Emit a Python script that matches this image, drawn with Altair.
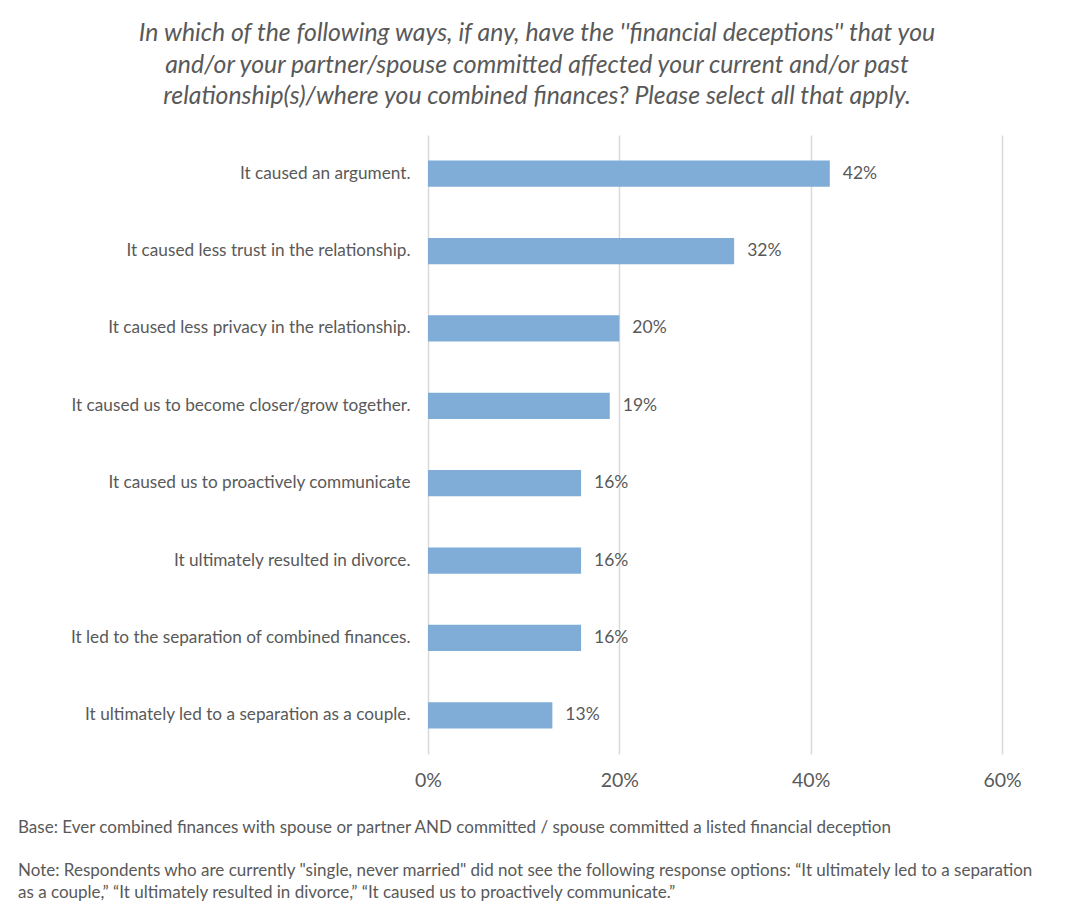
import altair as alt
import pandas as pd

categories = [
    "It caused an argument.",
    "It caused less trust in the relationship.",
    "It caused less privacy in the relationship.",
    "It caused us to become closer/grow together.",
    "It caused us to proactively communicate",
    "It ultimately resulted in divorce.",
    "It led to the separation of combined finances.",
    "It ultimately led to a separation as a couple.",
]
values = [0.42, 0.32, 0.20, 0.19, 0.16, 0.16, 0.16, 0.13]
labels = ["42%", "32%", "20%", "19%", "16%", "16%", "16%", "13%"]

title_lines = [
    "In which of the following ways, if any, have the ''financial deceptions'' that you",
    "and/or your partner/spouse committed affected your current and/or past",
    "relationship(s)/where you combined finances? Please select all that apply.",
]
base_note = "Base: Ever combined finances with spouse or partner AND committed / spouse committed a listed financial deception"
note_lines = [
    "Note: Respondents who are currently \"single, never married\" did not see the following response options: \u201cIt ultimately led to a separation",
    "as a couple,\u201d \u201cIt ultimately resulted in divorce,\u201d \u201cIt caused us to proactively communicate.\u201d",
]

df = pd.DataFrame({"cat": categories, "val": values, "lab": labels})

FONT = "Lato"
GRAY = "#595959"
W, H = 574, 619

x = alt.X("val:Q", scale=alt.Scale(domain=[0, 0.6]),
          axis=alt.Axis(values=[0, 0.2, 0.4, 0.6], format=".0%", title=None,
                        domain=False, ticks=False, labelPadding=17, labelFontSize=19.5,
                        labelColor=GRAY, labelFont=FONT, labelFlush=False, grid=True,
                        gridColor="#d9d9d9", gridWidth=1.5))
y = alt.Y("cat:N", sort=categories, scale=alt.Scale(paddingInner=0.66, paddingOuter=0.33),
          axis=alt.Axis(title=None, domain=False, ticks=False, labelPadding=18,
                        labelFontSize=17.2, labelColor=GRAY, labelFont=FONT, labelLimit=500))

bars = alt.Chart(df).mark_bar(color="#7FADD8").encode(x=x, y=y)
txt = alt.Chart(df).mark_text(align="left", dx=13, fontSize=17.5, color=GRAY, font=FONT).encode(
    x="val:Q", y=alt.Y("cat:N", sort=categories), text="lab:N")

title = alt.Chart(pd.DataFrame({"a": [0]})).mark_text(
    text=title_lines, fontSize=24.8, fontStyle="italic", color=GRAY, font=FONT,
    align="center", baseline="middle", lineHeight=31.5
).encode(x=alt.value(109), y=alt.value(-101))

base = alt.Chart(pd.DataFrame({"a": [0]})).mark_text(
    text=base_note, fontSize=17, color=GRAY, font=FONT, align="left", baseline="middle"
).encode(x=alt.value(-410), y=alt.value(693))

note = alt.Chart(pd.DataFrame({"a": [0]})).mark_text(
    text=note_lines, fontSize=17, color=GRAY, font=FONT, align="left", baseline="middle",
    lineHeight=22
).encode(x=alt.value(-410), y=alt.value(736))

chart = alt.layer(bars, txt, title, base, note).properties(
    width=W, height=H,
    autosize=alt.AutoSizeParams(type="none"),
    padding={"left": 420, "top": 127, "right": 60, "bottom": 147},
).configure(background="white").configure_view(strokeWidth=0, stroke="transparent")

chart.save("out.html", embed_options={"renderer": "svg", "actions": False})
